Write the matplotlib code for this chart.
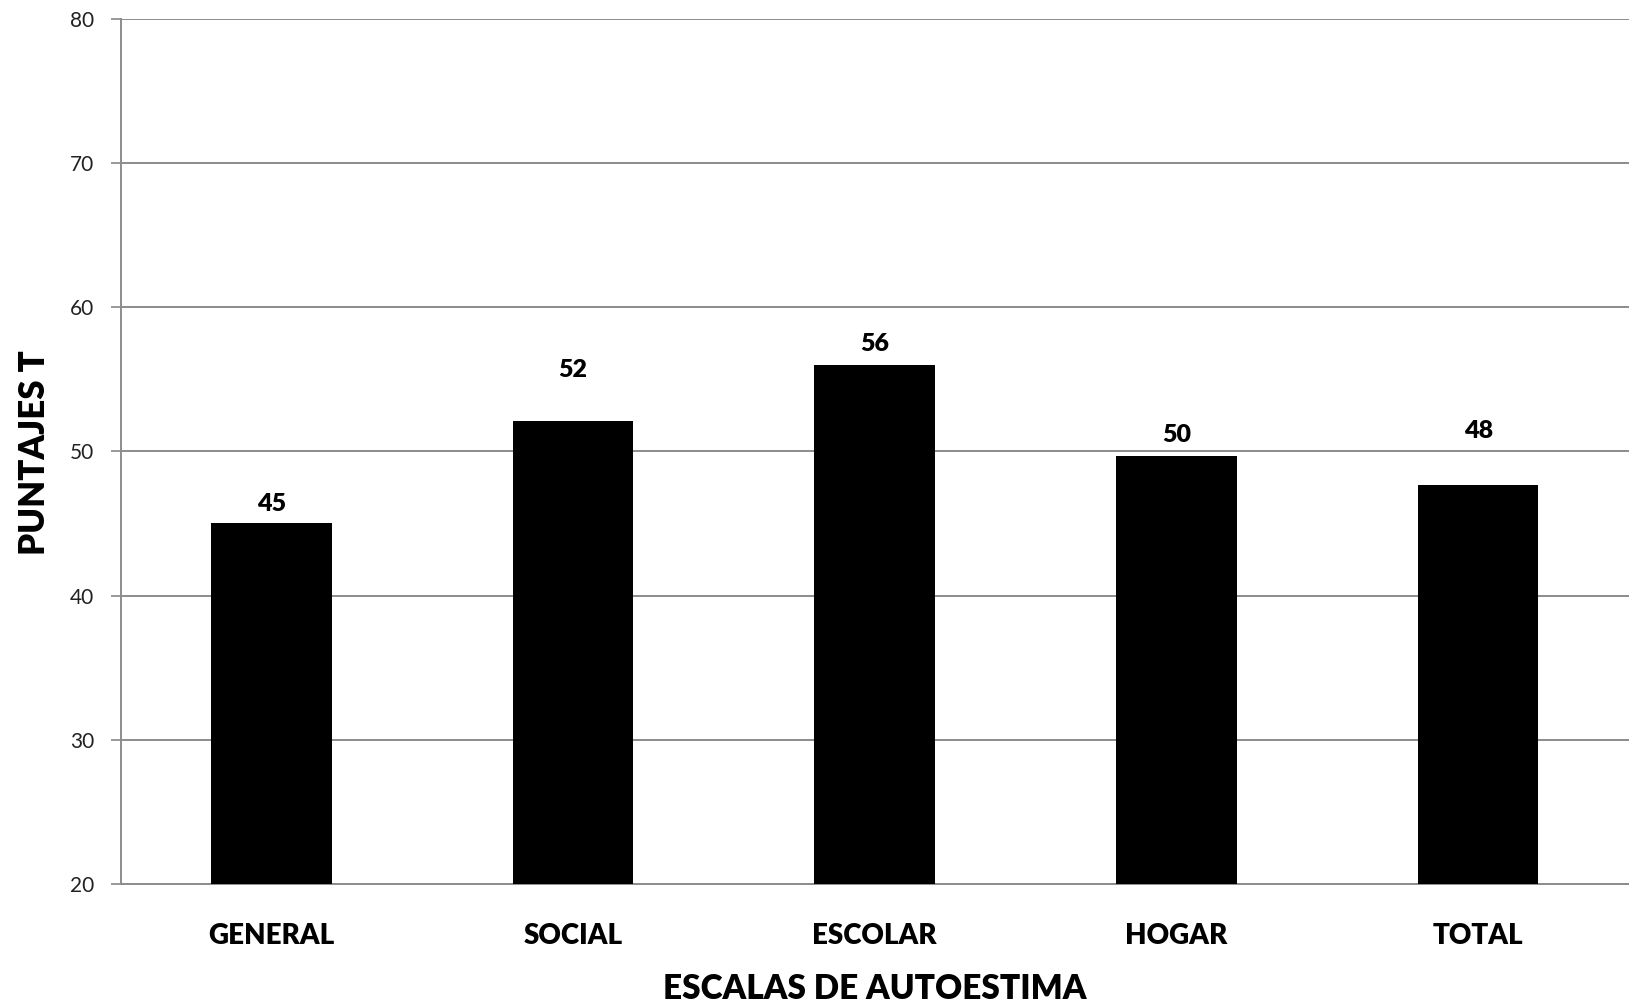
import matplotlib
matplotlib.use('Agg')
import matplotlib.pyplot as plt
import numpy as np

plt.rcParams['font.family'] = ['Lato', 'DejaVu Sans']

# ---- data ----
categories = ['GENERAL', 'SOCIAL', 'ESCOLAR', 'HOGAR', 'TOTAL']
values = [45.0, 52.1, 56.0, 49.7, 47.7]
value_labels = ['45', '52', '56', '50', '48']
# label lift above each bar (data units), as placed in the original
label_lift = [1.65, 3.85, 1.75, 1.7, 4.0]

y_ticks = [20, 30, 40, 50, 60, 70, 80]

# ---- figure ----
fig = plt.figure(figsize=(16.29, 10.05), dpi=100)
ax = fig.add_axes([0.074, 0.1204, 0.926, 0.861])

x = np.arange(len(categories))
ax.bar(x, [v - 20 for v in values], bottom=20, width=0.4, color='black', zorder=3)

for xi, v, lab, lift in zip(x, values, value_labels, label_lift):
    ax.text(xi, v + lift - 0.3, lab, ha='center', va='center',
            fontsize=18, fontweight='heavy', color='black', zorder=4)

ax.set_xlim(-0.5, len(categories) - 0.5)
ax.set_ylim(20, 80)
ax.set_yticks(y_ticks)
ax.set_xticks(x)
ax.set_xticklabels(categories, fontsize=20, fontweight='heavy')
ax.tick_params(axis='x', length=0, pad=28)
ax.tick_params(axis='y', length=7, width=1.2, color='#888888', pad=12,
               labelsize=15, labelcolor='#222222')

ax.yaxis.grid(True, color='#8c8c8c', linewidth=1.4, zorder=0)
ax.set_axisbelow(True)

for side in ['top', 'right']:
    ax.spines[side].set_visible(False)
for side in ['left', 'bottom']:
    ax.spines[side].set_color('#8c8c8c')
    ax.spines[side].set_linewidth(1.4)

ax.set_xlabel('ESCALAS DE AUTOESTIMA', fontsize=24, fontweight='heavy')
ax.xaxis.label.set_va('center')
ax.xaxis.set_label_coords(0.5, -0.121)

ax.set_ylabel('PUNTAJES T', fontsize=25, fontweight='heavy')
ax.yaxis.label.set_va('center')
ax.yaxis.set_label_coords(-0.0573, 0.499)

fig.savefig('out.png', dpi=100, facecolor='white')
